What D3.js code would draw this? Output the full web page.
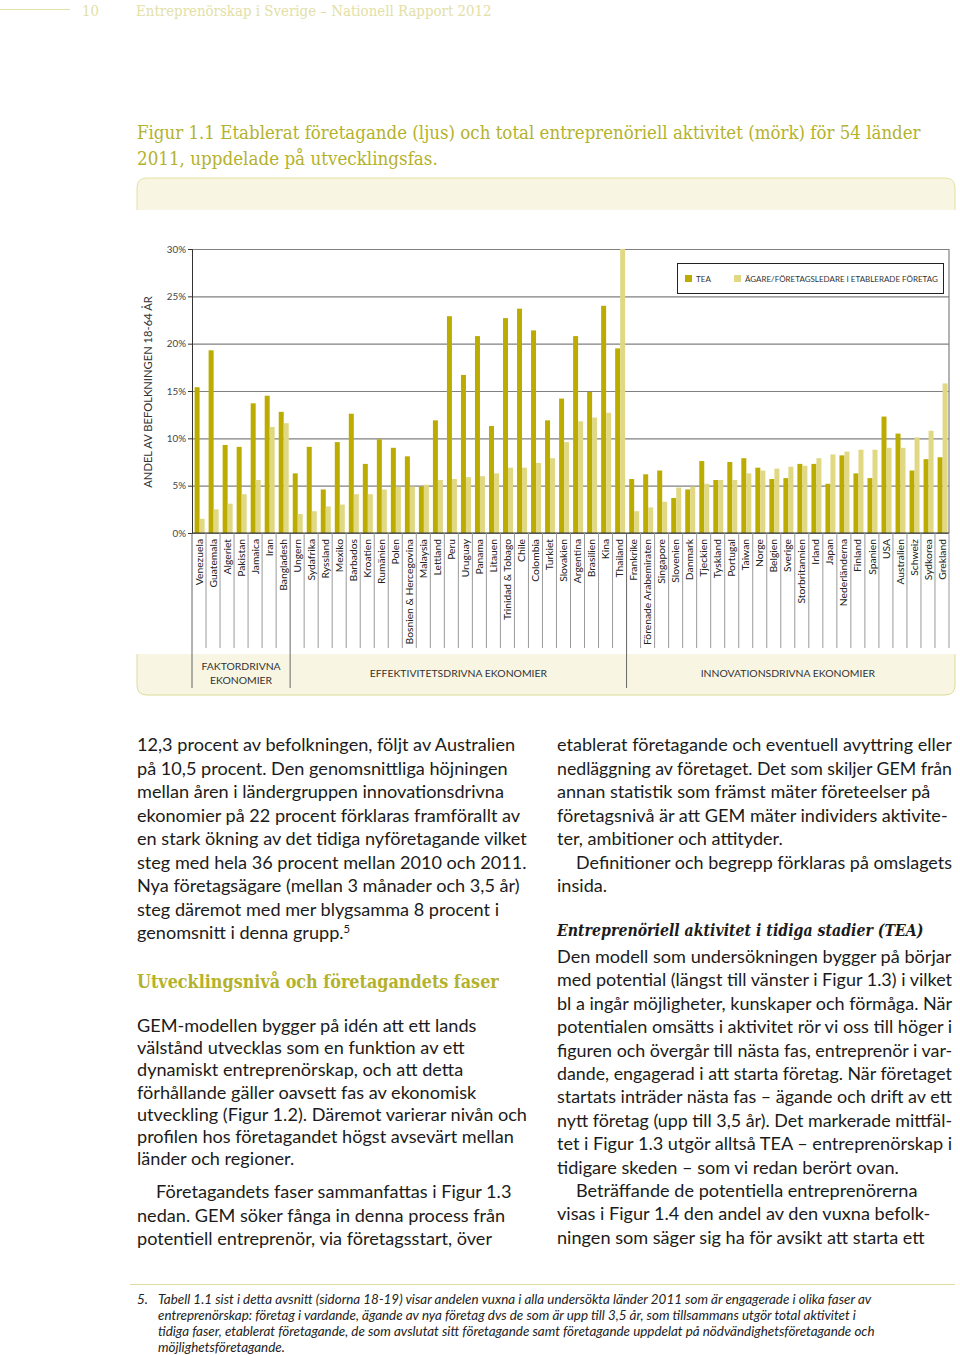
<!DOCTYPE html>
<html lang="sv">
<head>
<meta charset="utf-8">
<script src="https://d3js.org/d3.v7.min.js"></script>
<style>
  body { margin: 0; background: #fff; }
  svg { display: block; }
</style>
</head>
<body>
<svg id="page" width="960" height="1355"></svg>
<script>
  // ---- chart data (GEM 2011) ----
  const countries = [
    "Venezuela", "Guatemala", "Algeriet", "Pakistan", "Jamaica", "Iran", "Bangladesh",
    "Ungern", "Sydafrika", "Ryssland", "Mexiko", "Barbados", "Kroatien", "Rumänien", "Polen",
    "Bosnien & Hercegovina", "Malaysia", "Lettland", "Peru", "Uruguay", "Panama", "Litauen",
    "Trinidad & Tobago", "Chile", "Colombia", "Turkiet", "Slovakien", "Argentina", "Brasilien",
    "Kina", "Thailand",
    "Frankrike", "Förenade Arabemiraten", "Singapore", "Slovenien", "Danmark", "Tjeckien",
    "Tyskland", "Portugal", "Taiwan", "Norge", "Belgien", "Sverige", "Storbritannien", "Irland",
    "Japan", "Nederländerna", "Finland", "Spanien", "USA", "Australien", "Schweiz", "Sydkorea", "Grekland"
  ];
  const teaValues = [
    15.4, 19.3, 9.3, 9.1, 13.7, 14.5, 12.8,
    6.3, 9.1, 4.6, 9.6, 12.6, 7.3, 9.9, 9.0,
    8.1, 4.9, 11.9, 22.9, 16.7, 20.8, 11.3,
    22.7, 23.7, 21.4, 11.9, 14.2, 20.8, 14.9,
    24.0, 19.5,
    5.7, 6.2, 6.6, 3.7, 4.6, 7.6,
    5.6, 7.5, 7.9, 6.9, 5.7, 5.8, 7.3, 7.3,
    5.2, 8.2, 6.3, 5.8, 12.3, 10.5, 6.6, 7.8, 8.0
  ];
  const establishedValues = [
    1.5, 2.5, 3.1, 4.1, 5.6, 11.2, 11.6,
    2.0, 2.3, 2.8, 3.0, 4.1, 4.1, 4.6, 4.9,
    4.9, 5.1, 5.6, 5.7, 5.9, 6.0, 6.3,
    6.9, 6.9, 7.4, 7.9, 9.6, 11.8, 12.2,
    12.7, 30.1,
    2.3, 2.7, 3.3, 4.8, 4.9, 5.2,
    5.6, 5.6, 6.3, 6.6, 6.8, 7.0, 7.1, 7.9,
    8.3, 8.6, 8.8, 8.8, 9.0, 9.0, 10.1, 10.8, 15.8
  ];
  const groupSizes = [7, 24, 23];
  const groupLabels = [["FAKTORDRIVNA", "EKONOMIER"], ["EFFEKTIVITETSDRIVNA EKONOMIER"], ["INNOVATIONSDRIVNA EKONOMIER"]];
  const yTicks = [0, 5, 10, 15, 20, 25, 30];
  const seriesKeys = ["tea", "established"];
  const seriesNames = ["TEA", "ÄGARE/FÖRETAGSLEDARE I ETABLERADE FÖRETAG"];
  const yTitle = "ANDEL AV BEFOLKNINGEN  18-64 ÅR";

  // ---- page text ----
  const headerText = "Entreprenörskap i Sverige – Nationell Rapport 2012";
  const titleLines = [
    "Figur 1.1 Etablerat företagande (ljus) och total entreprenöriell aktivitet (mörk) för 54 länder",
    "2011, uppdelade på utvecklingsfas."
  ];
  const leftBlocks = [
    { x: 137, y: 745, step: 23.5, lines: [
      "12,3 procent av befolkningen, följt av Australien",
      "på 10,5 procent. Den genomsnittliga höjningen",
      "mellan åren i ländergruppen innovationsdrivna",
      "ekonomier på 22 procent förklaras framförallt av",
      "en stark ökning av det tidiga nyföretagande vilket",
      "steg med hela 36 procent mellan 2010 och 2011.",
      "Nya företagsägare (mellan 3 månader och 3,5 år)",
      "steg däremot med mer blygsamma 8 procent i",
      "genomsnitt i denna grupp.|5"
    ]},
    { x: 137, y: 1026, step: 22.2, lines: [
      "GEM-modellen bygger på idén att ett lands",
      "välstånd utvecklas som en funktion av ett",
      "dynamiskt entreprenörskap, och att detta",
      "förhållande gäller oavsett fas av ekonomisk",
      "utveckling (Figur 1.2). Däremot varierar nivån och",
      "profilen hos företagandet högst avsevärt mellan",
      "länder och regioner."
    ]},
    { x: 137, y: 1192, step: 23.5, lines: [
      "    Företagandets faser sammanfattas i Figur 1.3",
      "nedan. GEM söker fånga in denna process från",
      "potentiell entreprenör, via företagsstart, över"
    ]}
  ];
  const rightBlocks = [
    { x: 557, y: 745, step: 23.5, lines: [
      "etablerat företagande och eventuell avyttring eller",
      "nedläggning av företaget. Det som skiljer GEM från",
      "annan statistik som främst mäter företeelser på",
      "företagsnivå är att GEM mäter individers aktivite-",
      "ter, ambitioner och attityder.",
      "    Definitioner och begrepp förklaras på omslagets",
      "insida."
    ]},
    { x: 557, y: 957, step: 23.4, lines: [
      "Den modell som undersökningen bygger på börjar",
      "med potential (längst till vänster i Figur 1.3) i vilket",
      "bl a ingår möjligheter, kunskaper och förmåga. När",
      "potentialen omsätts i aktivitet rör vi oss till höger i",
      "figuren och övergår till nästa fas, entreprenör i var-",
      "dande, engagerad i att starta företag. När företaget",
      "startats inträder nästa fas – ägande och drift av ett",
      "nytt företag (upp till 3,5 år). Det markerade mittfäl-",
      "tet i Figur 1.3 utgör alltså TEA – entreprenörskap i",
      "tidigare skeden – som vi redan berört ovan.",
      "    Beträffande de potentiella entreprenörerna",
      "visas i Figur 1.4 den andel av den vuxna befolk-",
      "ningen som säger sig ha för avsikt att starta ett"
    ]}
  ];
  const footnoteLines = [
    "Tabell 1.1 sist i detta avsnitt (sidorna 18-19) visar andelen vuxna i alla undersökta länder 2011 som är engagerade i olika faser av",
    "entreprenörskap: företag i vardande, ägande av nya företag dvs de som är upp till 3,5 år, som tillsammans utgör total aktivitet i",
    "tidiga faser, etablerat företagande, de som avslutat sitt företagande samt företagande uppdelat på nödvändighetsföretagande och",
    "möjlighetsföretagande."
  ];

  const olive = "#b4b22c";
  const darkBar = "#bdac00";
  const lightBar = "#e0d883";
  const sans = "Lato, 'Open Sans', sans-serif";
  const slab = "'DejaVu Serif', serif";

  const svg = d3.select("#page");

  // place a text at (x, y) and squeeze it horizontally to a given width
  function fitText(parent, x, y, str, width, attrs) {
    const t = parent.append("text").text(str);
    Object.entries(attrs).forEach(([k, v]) => t.attr(k, v));
    const w = t.node().getComputedTextLength();
    const s = width == null ? 1 : width / w;
    t.attr("transform", `translate(${x},${y}) scale(${s},1)`);
    return t;
  }

  // ---- page header ----
  svg.append("line").attr("x1", 0).attr("x2", 70).attr("y1", 9.5).attr("y2", 9.5)
    .attr("stroke", "#e2e0a6").attr("stroke-width", 1);
  fitText(svg, 82, 16, "10", 17, { "font-family": slab, "font-size": 15, fill: "#e2e0a6" });
  fitText(svg, 136, 16, headerText, 356, { "font-family": slab, "font-size": 15, fill: "#e2e0a6" });

  // ---- figure title ----
  const titleWidths = [784, 301];
  titleLines.forEach((t, i) => {
    fitText(svg, 137, 139 + i * 26, t, titleWidths[i], { "font-family": slab, "font-size": 18, fill: olive });
  });

  // ---- frame bands ----
  svg.append("path")
    .attr("d", "M137,216 L137,188 Q137,178 147,178 L945,178 Q955,178 955,188 L955,216")
    .attr("fill", "#f8f6e3").attr("stroke", "#e4e0a0").attr("stroke-width", 1);
  svg.append("rect").attr("x", 136).attr("y", 210).attr("width", 821).attr("height", 8).attr("fill", "#fff");
  svg.append("path")
    .attr("d", "M137,652 L137,685 Q137,695 147,695 L945,695 Q955,695 955,685 L955,652")
    .attr("fill", "#f8f6e3").attr("stroke", "#dedb98").attr("stroke-width", 1);
  svg.append("rect").attr("x", 136).attr("y", 646).attr("width", 821).attr("height", 8).attr("fill", "#fff");

  // ---- scales ----
  const x = d3.scaleBand().domain(countries).range([192, 949]);
  const xInner = d3.scaleBand().domain(seriesKeys).range([2.6, 12.6]);
  const y = d3.scaleLinear().domain([0, 30]).range([533, 249]).clamp(true);

  const chart = svg.append("g");

  // gridlines
  chart.append("g")
    .attr("transform", "translate(192,0)")
    .call(d3.axisLeft(y).tickValues(yTicks).tickSize(-(949 - 192)).tickFormat(""))
    .call(g => g.select(".domain").remove())
    .call(g => g.selectAll(".tick line").attr("stroke", "#808080").attr("stroke-width", 1.2));

  // y axis with labels
  chart.append("g")
    .attr("transform", "translate(192,0)")
    .call(d3.axisLeft(y).tickValues(yTicks).tickSize(4).tickPadding(2).tickFormat(d => d + "%"))
    .call(g => g.select(".domain").attr("stroke", "#333"))
    .call(g => g.selectAll(".tick line").attr("stroke", "#333"))
    .call(g => g.selectAll(".tick text").attr("font-family", sans).attr("font-size", 9.8).attr("fill", "#444"));

  // right frame
  chart.append("line").attr("x1", 949).attr("x2", 949).attr("y1", y(30)).attr("y2", y(0))
    .attr("stroke", "#808080").attr("stroke-width", 1.2);

  // bars
  const rows = countries.map((c, i) => ({ country: c, tea: teaValues[i], established: establishedValues[i] }));
  const colorOf = { tea: darkBar, established: lightBar };
  chart.append("g").selectAll("g")
    .data(rows)
    .join("g")
    .attr("transform", d => `translate(${x(d.country)},0)`)
    .selectAll("rect")
    .data(d => seriesKeys.map(k => ({ key: k, value: d[k] })))
    .join("rect")
    .attr("x", d => xInner(d.key))
    .attr("width", xInner.bandwidth())
    .attr("y", d => y(d.value))
    .attr("height", d => y(0) - y(d.value))
    .attr("fill", d => colorOf[d.key]);

  // x axis line
  chart.append("line").attr("x1", 192).attr("x2", 949).attr("y1", y(0)).attr("y2", y(0))
    .attr("stroke", "#333").attr("stroke-width", 1.2);

  // category dividers
  const boundaries = countries.map(c => x(c)).concat([949]);
  const groupStarts = [0];
  groupSizes.forEach((s, i) => groupStarts.push(groupStarts[i] + s));
  const isGroupEdge = i => groupStarts.includes(i) && i < countries.length;
  chart.append("g").selectAll("line")
    .data(boundaries)
    .join("line")
    .attr("x1", d => d).attr("x2", d => d)
    .attr("y1", y(0)).attr("y2", (d, i) => isGroupEdge(i) ? 688 : 648)
    .attr("stroke", (d, i) => isGroupEdge(i) ? "#666" : "#9a9a9a")
    .attr("stroke-width", 1);

  // category labels
  chart.append("g").selectAll("text")
    .data(countries)
    .join("text")
    .attr("transform", d => `translate(${x(d) + x.bandwidth() / 2},539) rotate(-90)`)
    .attr("text-anchor", "end")
    .attr("dy", "0.35em")
    .attr("font-family", sans).attr("font-size", 10.3).attr("fill", "#222")
    .text(d => d);

  // group labels
  groupLabels.forEach((lines, gi) => {
    const x0 = x(countries[groupStarts[gi]]);
    const x1 = groupStarts[gi + 1] < countries.length ? x(countries[groupStarts[gi + 1]]) : 949;
    const cx = (x0 + x1) / 2;
    const t = chart.append("text").attr("x", cx).attr("text-anchor", "middle")
      .attr("font-family", sans).attr("font-size", 10.4).attr("fill", "#333");
    if (lines.length === 1) {
      t.attr("y", 677).text(lines[0]);
    } else {
      t.attr("y", 670);
      lines.forEach((l, li) => t.append("tspan").attr("x", cx).attr("dy", li ? 14 : 0).text(l));
    }
  });

  // y title
  chart.append("text")
    .attr("transform", "translate(152,392) rotate(-90)")
    .attr("text-anchor", "middle")
    .attr("font-family", sans).attr("font-size", 11.2).attr("fill", "#333")
    .text(yTitle);

  // legend
  const legend = chart.append("g");
  legend.append("rect").attr("x", 677.5).attr("y", 263.5).attr("width", 266).attr("height", 30)
    .attr("fill", "#fff").attr("stroke", "#222").attr("stroke-width", 1);
  const legendX = [685, 734];
  const legendWidths = [15, 193];
  seriesKeys.forEach((k, i) => {
    legend.append("rect").attr("x", legendX[i]).attr("y", 275).attr("width", 7).attr("height", 7)
      .attr("fill", colorOf[k]);
    fitText(legend, legendX[i] + 11, 282, seriesNames[i], legendWidths[i],
      { "font-family": sans, "font-size": 8.5, fill: "#333" });
  });

  // ---- body text ----
  const probe = svg.append("text").attr("font-family", sans).attr("font-size", 16)
    .text("en stark ökning av det tidiga nyföretagande vilket");
  const bodySize = 16 * 390 / probe.node().getComputedTextLength();
  probe.remove();

  function drawBlock(b, maxRight) {
    b.lines.forEach((line, i) => {
      let s = line, indent = 0;
      if (s.startsWith("    ")) { s = s.trim(); indent = 19; }
      const x0 = b.x + indent, y0 = b.y + i * b.step + 6;
      const t = svg.append("text")
        .attr("font-family", sans).attr("font-size", bodySize).attr("fill", "#1b1b1b");
      const parts = s.split("|");
      t.append("tspan").text(parts[0]);
      if (parts[1]) t.append("tspan").attr("baseline-shift", "super").attr("font-size", bodySize * 0.62).text(parts[1]);
      const w = t.node().getComputedTextLength();
      const sc = Math.min(1, (maxRight - x0) / w);
      t.attr("transform", `translate(${x0},${y0}) scale(${sc},1)`);
    });
  }
  leftBlocks.forEach(b => drawBlock(b, 528));
  rightBlocks.forEach(b => drawBlock(b, 952));

  fitText(svg, 137, 988, "Utvecklingsnivå och företagandets faser", 362,
    { "font-family": slab, "font-weight": "bold", "font-size": 19, fill: olive });
  fitText(svg, 557, 936, "Entreprenöriell aktivitet i tidiga stadier (TEA)", 367,
    { "font-family": slab, "font-weight": "bold", "font-style": "italic", "font-size": 17, fill: "#1b1b1b" });

  // ---- footnote ----
  svg.append("line").attr("x1", 130).attr("x2", 955).attr("y1", 1284.5).attr("y2", 1284.5)
    .attr("stroke", "#dedc9e").attr("stroke-width", 1.2);
  const fprobe = svg.append("text").attr("font-family", sans).attr("font-style", "italic").attr("font-size", 12)
    .text(footnoteLines[0]);
  const footSize = 12 * 714 / fprobe.node().getComputedTextLength();
  fprobe.remove();
  svg.append("text").attr("x", 137).attr("y", 1304)
    .attr("font-family", sans).attr("font-style", "italic").attr("font-size", footSize).attr("fill", "#222")
    .text("5.");
  footnoteLines.forEach((l, i) => {
    svg.append("text").attr("x", 158).attr("y", 1304 + i * 16)
      .attr("font-family", sans).attr("font-style", "italic").attr("font-size", footSize).attr("fill", "#222")
      .text(l);
  });
</script>
</body>
</html>
